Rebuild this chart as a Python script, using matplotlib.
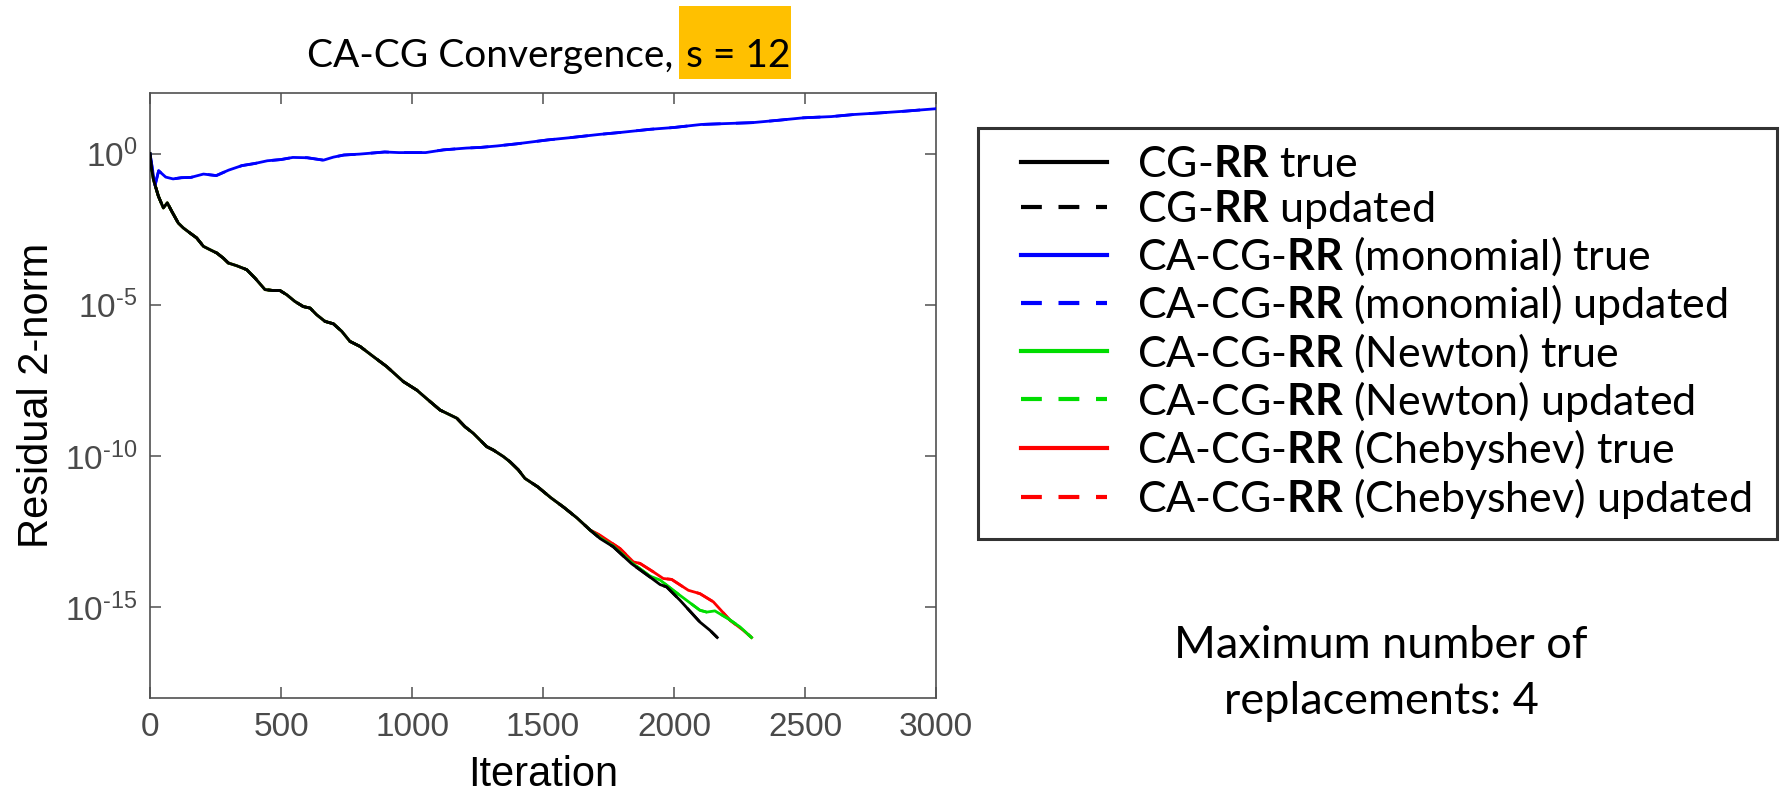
import numpy as np
import matplotlib
matplotlib.use("Agg")
import matplotlib.pyplot as plt
from matplotlib.lines import Line2D
from matplotlib.patches import Rectangle
from matplotlib.ticker import FixedLocator, FixedFormatter
from matplotlib.legend_handler import HandlerLine2D

# ---------------- data (log10 of residual 2-norm) -------------
trunk_it = [0, 5, 13, 32, 51, 66, 83, 108, 127, 153, 178, 204, 229, 255, 280, 299, 331,
            369, 401, 439, 471, 496, 522, 553, 585, 611, 636, 668, 700, 732, 763, 802,
            852, 903, 967, 1018, 1069, 1107, 1145, 1171, 1202, 1234, 1285, 1310, 1349,
            1374, 1406, 1431, 1480, 1530, 1580, 1630, 1680]
trunk_log = [0.0, -0.45, -0.86, -1.41, -1.80, -1.63, -1.91, -2.30, -2.46, -2.63, -2.79,
             -3.07, -3.18, -3.29, -3.46, -3.62, -3.71, -3.84, -4.12, -4.50, -4.53, -4.53,
             -4.67, -4.89, -5.06, -5.11, -5.33, -5.55, -5.63, -5.88, -6.21, -6.38, -6.71,
             -7.04, -7.54, -7.82, -8.20, -8.48, -8.64, -8.75, -9.03, -9.25, -9.69, -9.80,
             -10.02, -10.19, -10.46, -10.74, -11.02, -11.38, -11.70, -12.05, -12.45]

cg_tail_it = [1718, 1768, 1838, 1908, 1947, 1972, 2023, 2099, 2137, 2165]
cg_tail_log = [-12.73, -13.0, -13.56, -14.0, -14.25, -14.33, -14.77, -15.49, -15.76, -16.0]

newton_tail_it = [1718, 1768, 1838, 1908, 1947, 1997, 2048, 2099, 2125, 2156, 2207, 2252, 2296]
newton_tail_log = [-12.70, -12.98, -13.52, -13.97, -14.1, -14.44, -14.77, -15.1, -15.16,
                   -15.12, -15.38, -15.65, -16.0]

cheb_tail_it = [1718, 1794, 1845, 1870, 1921, 1959, 1991, 2055, 2099, 2150, 2214, 2264, 2296]
cheb_tail_log = [-12.62, -13.06, -13.5, -13.55, -13.83, -14.05, -14.08, -14.44, -14.55,
                 -14.82, -15.43, -15.76, -16.0]

mono_it = [0, 19, 33, 60, 88, 120, 156, 204, 253, 300, 351, 400, 448, 500, 545, 600, 662,
           700, 740, 800, 896, 950, 1052, 1120, 1208, 1260, 1325, 1400, 1519, 1600, 1714,
           1800, 1909, 2000, 2104, 2200, 2299, 2400, 2494, 2600, 2688, 2800, 2883, 3000]
mono_log = [0.0, -1.06, -0.57, -0.78, -0.84, -0.80, -0.79, -0.68, -0.73, -0.55, -0.40,
            -0.33, -0.24, -0.20, -0.13, -0.14, -0.22, -0.12, -0.05, -0.02, 0.05, 0.03,
            0.03, 0.12, 0.18, 0.20, 0.25, 0.32, 0.45, 0.52, 0.63, 0.70, 0.80, 0.86, 0.96,
            0.99, 1.02, 1.10, 1.18, 1.22, 1.29, 1.35, 1.40, 1.48]

labels = [r"CG-$\mathbf{RR}$ true", r"CG-$\mathbf{RR}$ updated",
          r"CA-CG-$\mathbf{RR}$ (monomial) true", r"CA-CG-$\mathbf{RR}$ (monomial) updated",
          r"CA-CG-$\mathbf{RR}$ (Newton) true", r"CA-CG-$\mathbf{RR}$ (Newton) updated",
          r"CA-CG-$\mathbf{RR}$ (Chebyshev) true", r"CA-CG-$\mathbf{RR}$ (Chebyshev) updated"]
colors = ["#000000", "#000000", "#0000ff", "#0000ff", "#00dd00", "#00dd00", "#ff0000", "#ff0000"]

xticks = [0, 500, 1000, 1500, 2000, 2500, 3000]
yticks = [1e-15, 1e-10, 1e-5, 1e0]
ytick_labels = [r"$10^{\text{-}15}$", r"$10^{\text{-}10}$", r"$10^{\text{-}5}$", r"$10^{0}$"]

# ---------------- style -------------
plt.rcParams["mathtext.fontset"] = "custom"
plt.rcParams["mathtext.rm"] = "Liberation Sans"
plt.rcParams["mathtext.it"] = "Liberation Sans:italic"
plt.rcParams["mathtext.bf"] = "Lato:bold"
plt.rcParams["font.family"] = ["Liberation Sans", "DejaVu Sans"]

W, H = 1780, 792
fig = plt.figure(figsize=(W / 100, H / 100), dpi=100)
fig.patch.set_facecolor("white")

ax = fig.add_axes([150 / W, 1 - 698 / H, 786 / W, 605 / H])

cg_it = np.array(trunk_it + cg_tail_it)
cg_res = 10.0 ** np.array(trunk_log + cg_tail_log)
nw_it = np.array(trunk_it + newton_tail_it)
nw_res = 10.0 ** np.array(trunk_log + newton_tail_log)
ch_it = np.array(trunk_it + cheb_tail_it)
ch_res = 10.0 ** np.array(trunk_log + cheb_tail_log)
mo_it = np.array(mono_it)
mo_res = 10.0 ** np.array(mono_log)

lw = 2.0
dash = (6.5, 5.5)
series = [(cg_it, cg_res), (cg_it, cg_res), (mo_it, mo_res), (mo_it, mo_res),
          (nw_it, nw_res), (nw_it, nw_res), (ch_it, ch_res), (ch_it, ch_res)]
draw_order = [7, 6, 5, 4, 3, 2, 1, 0]
for i in draw_order:
    xs, ys = series[i]
    ls = "--" if i % 2 == 1 else "-"
    line, = ax.semilogy(xs, ys, color=colors[i], lw=lw, ls=ls, zorder=3 + (7 - i) * 0.1,
                        solid_joinstyle="round")
    if ls == "--":
        line.set_dashes(dash)

ax.set_xlim(0, 3000)
ax.set_ylim(1e-18, 1e2)
ax.xaxis.set_major_locator(FixedLocator(xticks))
ax.yaxis.set_major_locator(FixedLocator(yticks))
ax.yaxis.set_major_formatter(FixedFormatter(ytick_labels))
ax.yaxis.set_minor_locator(FixedLocator([]))
ax.tick_params(which="both", direction="in", top=True, right=True, length=8, width=1.1,
               color="#505050", labelcolor="#4a4a4a", labelsize=24)
ax.tick_params(axis="x", pad=10)
ax.tick_params(axis="y", pad=9)
for sp in ax.spines.values():
    sp.set_color("#505050")
    sp.set_linewidth(1.2)

ax.set_xlabel("Iteration", fontsize=30, labelpad=9)
ax.set_ylabel("Residual 2-norm", fontsize=30, labelpad=6)

# ---------------- title with highlighted part -------------
title_font = ["Lato", "DejaVu Sans"]
fig.patches.append(Rectangle((679 / W, 1 - 79 / H), 112 / W, 73 / H, transform=fig.transFigure,
                             facecolor="#ffc000", edgecolor="none", zorder=0))
fig.text(673 / W, 1 - 67 / H, "CA-CG Convergence,", fontsize=28, family=title_font,
         ha="right", va="baseline")
fig.text(686 / W, 1 - 67 / H, "s = 12", fontsize=28, family=title_font, ha="left", va="baseline")

# ---------------- legend -------------
handles = []
for i in range(8):
    h = Line2D([], [], color=colors[i], lw=3, ls="--" if i % 2 else "-")
    if i % 2:
        h.set_dashes((5, 4))
    handles.append(h)
shift = 0.58
leg = fig.legend(handles, labels, loc="upper left",
                 bbox_to_anchor=(978 / W, 1 - 537 / H, (1777 - 978) / W, (537 - 128) / H),
                 mode="expand", borderaxespad=0, fancybox=False, frameon=True,
                 prop={"family": title_font, "size": 31},
                 handlelength=2.0 + shift, handletextpad=0.7, labelspacing=0.09,
                 borderpad=0.42,
                 handler_map={Line2D: HandlerLine2D(xpad=shift)})
leg.get_frame().set_edgecolor("black")
leg.get_frame().set_linewidth(2.2)

# ---------------- annotation -------------
fig.text(1381 / W, 1 - 658 / H, "Maximum number of", fontsize=32.5, family=title_font,
         ha="center", va="baseline")
fig.text(1381 / W, 1 - 714 / H, "replacements: 4", fontsize=32.5, family=title_font,
         ha="center", va="baseline")

fig.savefig("out.png", dpi=100, facecolor="white")
